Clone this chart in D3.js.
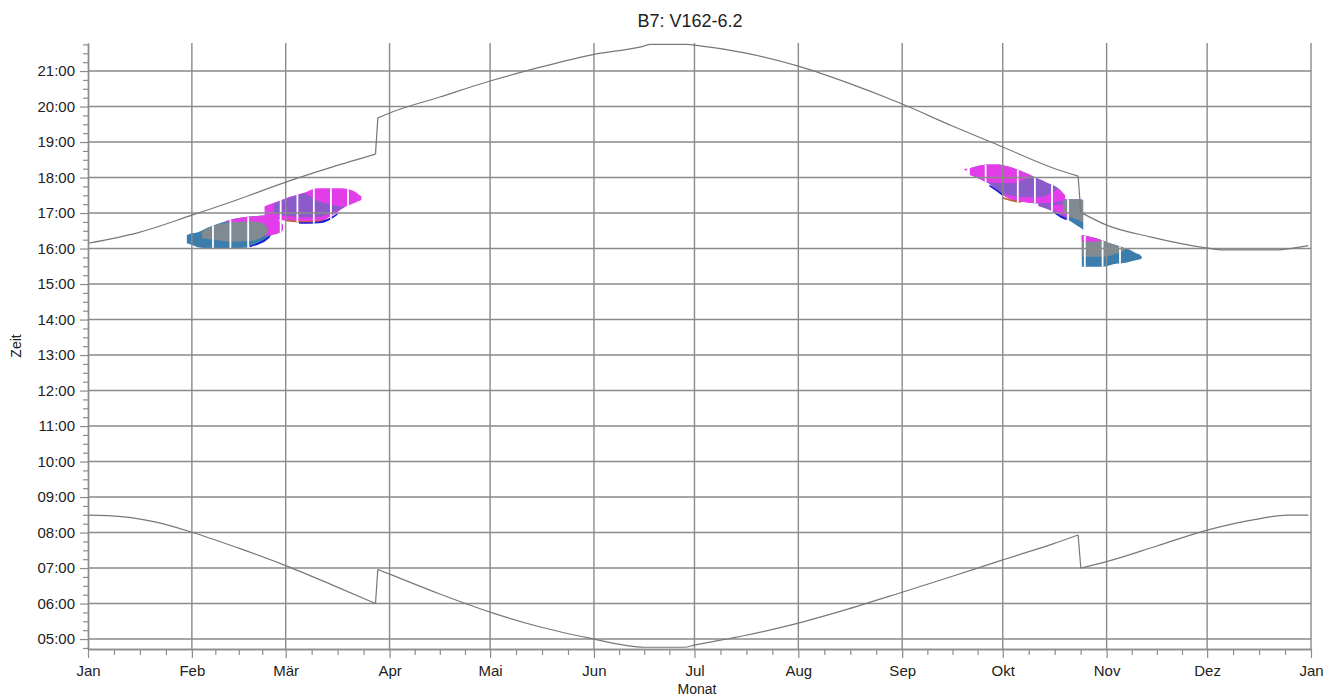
<!DOCTYPE html>
<html><head><meta charset="utf-8">
<script src="https://cdn.jsdelivr.net/npm/d3@7"></script>
<style>
html,body{margin:0;padding:0;background:#fff;}
svg{display:block;font-family:"Liberation Sans",Arial,sans-serif;}
</style></head>
<body>
<svg id="chart" width="1323" height="696"></svg>
<script>
// ---------- data ----------
const titleText = "B7: V162-6.2";
const xTitle = "Monat";
const yTitle = "Zeit";
const monthLabels = ["Jan","Feb","Mär","Apr","Mai","Jun","Jul","Aug","Sep","Okt","Nov","Dez","Jan"];
const monthStartDays = [0,31,59,90,120,151,181,212,243,273,304,334,365];
const hourTicks = [5,6,7,8,9,10,11,12,13,14,15,16,17,18,19,20,21];
const hourLabels = ["05:00","06:00","07:00","08:00","09:00","10:00","11:00","12:00","13:00","14:00","15:00","16:00","17:00","18:00","19:00","20:00","21:00"];

// sunset / sunrise (day of year, hours); clock changes after day 85.8 and 295.5
const clockChangeDays = [85.8, 295.5];
const sunsetDays  = [0,15,31,45,59,73,85.8,86.5,90,105,120,135,151,165,168,179,181,196,212,227,243,258,273,288,295.5,296.3,304,317,334.3,338.7,354.9,359.7,364.2];
const sunsetTimes = [16.15,16.45,16.94,17.39,17.87,18.30,18.66,19.68,19.82,20.27,20.72,21.11,21.47,21.68,21.75,21.75,21.73,21.51,21.14,20.66,20.07,19.45,18.86,18.27,18.04,17.02,16.66,16.33,16.01,15.96,15.96,16.01,16.08];
const sunriseDays  = [0,10,20,31,45,59,73,85.8,86.5,90,105,120,135,151,160,166,178,181,196,212,227,243,258,273,288,295.5,296.3,304,319,334,349,358,364.2];
const sunriseTimes = [8.49,8.45,8.30,8.01,7.56,7.07,6.52,6.00,6.96,6.83,6.27,5.76,5.34,5.00,4.83,4.77,4.77,4.83,5.10,5.45,5.85,6.32,6.77,7.23,7.68,7.93,7.00,7.18,7.62,8.07,8.38,8.49,8.49];

// shadow regions: day, start time, end time
const febBlueDays  = [29.5,30.4,32.8,35.8,38.2,41.2,44.2,46.9,48.3,50.7,52.7,54.6,56.1,57.3,58.2];
const febBlueStart = [16.15,16.12,16.04,16.01,16.01,16.01,16.01,16.02,16.06,16.13,16.22,16.36,16.43,16.45,16.52];
const febBlueEnd   = [16.38,16.42,16.46,16.59,16.68,16.77,16.85,16.88,16.90,16.92,16.93,16.90,16.84,16.76,16.66];
const febMagentaDays  = [41.2,45.4,49.8,52.8,54.9,57.3,58.2];
const febMagentaStart = [16.76,16.66,16.48,16.36,16.38,16.45,16.52];
const febMagentaEnd   = [16.78,16.87,16.91,16.93,16.90,16.76,16.66];
const febGrayDays  = [34.0,35.8,38.2,43.3,48.3,52.2,53.7];
const febGrayStart = [16.30,16.27,16.24,16.19,16.21,16.33,16.45];
const febGrayEnd   = [16.47,16.57,16.66,16.74,16.76,16.71,16.56];
const febEdgeDays  = [48.3,50.7,52.8,54.3];
const febEdgeStart = [16.04,16.11,16.20,16.31];
const febEdgeEnd   = [16.08,16.16,16.27,16.37];

const marMagentaDays  = [52.7,56.7,60.7,64.7,67.2,68.6,70.6,71.6,74.1,75.6,77.6,78.5,79.7,80.6,81.6];
const marMagentaStart = [16.91,16.81,16.77,16.72,16.74,16.74,16.78,16.86,17.00,17.11,17.21,17.25,17.29,17.33,17.37];
const marMagentaEnd   = [17.19,17.33,17.47,17.58,17.68,17.70,17.70,17.70,17.70,17.70,17.68,17.65,17.60,17.54,17.47];
const marPurpleDays  = [55.5,56.7,60.7,64.7,66.3,68.0,70.7,74.6,76.7];
const marPurpleStart = [17.00,16.96,16.91,16.88,16.88,16.89,16.93,17.08,17.16];
const marPurpleEnd   = [17.26,17.31,17.45,17.56,17.47,17.37,17.28,17.19,17.16];
const marOrangeDays  = [59,62,65,68,70.5];
const marOrangeStart = [16.77,16.74,16.72,16.73,16.77];
const marOrangeEnd   = [16.81,16.79,16.77,16.78,16.82];
const marEdgeDays  = [63,66,69,72,74.5];
const marEdgeStart = [16.70,16.70,16.71,16.80,16.95];
const marEdgeEnd   = [16.74,16.74,16.76,16.86,17.00];

const octPurpleDays  = [263.2,265.7,268.7,271.7,274.7,277.6,280.6,283.6,286.6,289.6,291.1,291.6];
const octPurpleStart = [18.07,17.98,17.84,17.60,17.42,17.33,17.30,17.27,17.29,17.32,17.35,17.37];
const octPurpleEnd   = [18.26,18.33,18.37,18.37,18.31,18.22,18.10,17.97,17.84,17.70,17.55,17.50];
const octMagentaDays  = [263.2,265.7,268.7,271.7,274.7,277.6,280.0,281.5];
const octMagentaStart = [18.07,17.98,17.86,17.85,17.84,17.87,17.98,18.06];
const octMagentaEnd   = [18.26,18.33,18.37,18.37,18.31,18.22,18.12,18.07];
const octDotDays  = [261.6,262.4];
const octDotStart = [18.20,18.20];
const octDotEnd   = [18.25,18.25];
const octBandDays  = [273.5,276,279,282,285,288,289.6,291.1,291.6];
const octBandStart = [17.48,17.37,17.31,17.28,17.28,17.30,17.32,17.35,17.37];
const octBandEnd   = [17.55,17.48,17.45,17.44,17.46,17.60,17.68,17.55,17.50];
const octOrangeDays  = [273,275.5,278.5];
const octOrangeStart = [17.40,17.33,17.29];
const octOrangeEnd   = [17.45,17.38,17.33];
const octEdgeDays  = [269,271,273];
const octEdgeStart = [17.75,17.62,17.48];
const octEdgeEnd   = [17.80,17.68,17.54];

const lateOctPurpleDays  = [283.6,287.1,290.1,293.1,296.1,297.0];
const lateOctPurpleStart = [17.20,17.08,16.92,16.78,16.60,16.54];
const lateOctPurpleEnd   = [17.33,17.39,17.39,17.39,17.39,17.37];
const lateOctMagentaDays  = [287.5,290,292.5,294];
const lateOctMagentaStart = [17.10,16.98,16.92,16.95];
const lateOctMagentaEnd   = [17.20,17.25,17.18,17.05];
const lateOctGrayDays  = [291.0,293,295,297.0];
const lateOctGrayStart = [17.08,16.90,16.78,16.70];
const lateOctGrayEnd   = [17.34,17.39,17.39,17.37];
const lateOctBlueDays  = [292.5,294,296,297.0];
const lateOctBlueStart = [16.82,16.72,16.60,16.54];
const lateOctBlueEnd   = [16.88,16.86,16.78,16.72];
const lateOctEdgeDays  = [288.6,290.3,292];
const lateOctEdgeStart = [16.97,16.87,16.80];
const lateOctEdgeEnd   = [17.02,16.93,16.86];

const novBlueDays  = [296.6,300.0,303.0,305.0,306.0,307.5,309.5,310.0,313.0,314.0,314.5];
const novBlueStart = [15.49,15.49,15.49,15.53,15.56,15.58,15.60,15.61,15.68,15.70,15.72];
const novBlueEnd   = [16.38,16.31,16.22,16.15,16.12,16.08,16.01,16.00,15.86,15.82,15.77];
const novGrayDays  = [296.6,300.0,303.0,305.0,307.0,309.0,309.6];
const novGrayStart = [15.77,15.77,15.77,15.80,15.86,15.94,15.98];
const novGrayEnd   = [16.38,16.31,16.22,16.15,16.09,16.02,15.99];
const novMagentaDays  = [296.6,300.0,302.5];
const novMagentaStart = [16.19,16.19,16.21];
const novMagentaEnd   = [16.38,16.31,16.24];

// days where the shadow raster has gaps (white columns)
const gapDays = [37.3,42.5,47.8,57.5,62.5,67.4,72.5,77.6,267.9,277.5,282.6,287.7,292.5,297.5,302.8,308.0];

// ---------- styles ----------
const COL = {
  blue:"#3b7eae", gray:"#808a92", magenta:"#e23de8", purple:"#8b5cc9",
  edge:"#1c1ce0", orange:"#c0603a",
  grid:"#8a8a8a", axis:"#8c8c8c", sun:"#787878", text:"#222"
};

// ---------- layout ----------
const svg = d3.select("#chart");
const x = d3.scaleLinear().domain([0,365]).range([88,1311]);
const y = d3.scaleLinear().domain([4.72,21.79]).range([649,43]);

function pts(d,s,e){ return d.map((v,i)=>[v,s[i],e[i]]); }
const layers = [
  [febBlueDays,febBlueStart,febBlueEnd,COL.blue],
  [febMagentaDays,febMagentaStart,febMagentaEnd,COL.magenta],
  [febGrayDays,febGrayStart,febGrayEnd,COL.gray],
  [febEdgeDays,febEdgeStart,febEdgeEnd,COL.edge],
  [marMagentaDays,marMagentaStart,marMagentaEnd,COL.magenta],
  [marPurpleDays,marPurpleStart,marPurpleEnd,COL.purple],
  [marOrangeDays,marOrangeStart,marOrangeEnd,COL.orange],
  [marEdgeDays,marEdgeStart,marEdgeEnd,COL.edge],
  [lateOctPurpleDays,lateOctPurpleStart,lateOctPurpleEnd,COL.purple],
  [lateOctMagentaDays,lateOctMagentaStart,lateOctMagentaEnd,COL.magenta],
  [lateOctGrayDays,lateOctGrayStart,lateOctGrayEnd,COL.gray],
  [lateOctBlueDays,lateOctBlueStart,lateOctBlueEnd,COL.blue],
  [lateOctEdgeDays,lateOctEdgeStart,lateOctEdgeEnd,COL.edge],
  [octPurpleDays,octPurpleStart,octPurpleEnd,COL.purple],
  [octMagentaDays,octMagentaStart,octMagentaEnd,COL.magenta],
  [octDotDays,octDotStart,octDotEnd,COL.magenta],
  [octBandDays,octBandStart,octBandEnd,COL.magenta],
  [octOrangeDays,octOrangeStart,octOrangeEnd,COL.orange],
  [octEdgeDays,octEdgeStart,octEdgeEnd,COL.edge],
  [novBlueDays,novBlueStart,novBlueEnd,COL.blue],
  [novGrayDays,novGrayStart,novGrayEnd,COL.gray],
  [novMagentaDays,novMagentaStart,novMagentaEnd,COL.magenta]
].map(l=>({p:pts(l[0],l[1],l[2]), c:l[3]}));

const area = d3.area()
  .x(p=>x(p[0])).y0(p=>y(p[1])).y1(p=>y(p[2]))
  .curve(d3.curveMonotoneX);

// clip for gap columns = union of all layers
const defs = svg.append("defs");
const clip = defs.append("clipPath").attr("id","blobclip");
clip.selectAll("path").data(layers).join("path").attr("d",l=>area(l.p));

const gBlobs = svg.append("g");
gBlobs.selectAll("path").data(layers).join("path")
  .attr("d",l=>area(l.p)).attr("fill",l=>l.c).attr("stroke","none");

svg.append("g").attr("clip-path","url(#blobclip)")
  .selectAll("line").data(gapDays).join("line")
  .attr("x1",d=>x(d)).attr("x2",d=>x(d))
  .attr("y1",y(19)).attr("y2",y(15))
  .attr("stroke","#fff").attr("stroke-width",1.8);

// gridlines
const grid = svg.append("g").attr("stroke",COL.grid).attr("stroke-width",1.4);
grid.selectAll(".h").data(hourTicks).join("line")
  .attr("x1",x(0)).attr("x2",x(365))
  .attr("y1",d=>y(d)).attr("y2",d=>y(d));
grid.selectAll(".v").data(monthStartDays.slice(1)).join("line")
  .attr("x1",d=>x(d)).attr("x2",d=>x(d))
  .attr("y1",y.range()[1]).attr("y2",y.range()[0]);

// sun lines: smooth pieces between clock changes, straight jumps
const smooth = d3.line().x(p=>x(p[0])).y(p=>y(p[1])).curve(d3.curveMonotoneX);
function drawSunLine(days, times){
  const p = days.map((d,i)=>[d,times[i]]);
  const pieces = [[]];
  p.forEach((q,i)=>{
    pieces[pieces.length-1].push(q);
    if(clockChangeDays.includes(q[0]) && i<p.length-1){
      pieces.push([q, p[i+1]]);   // the jump itself
      pieces.push([]);
    }
  });
  svg.append("g").selectAll("path").data(pieces.filter(a=>a.length>1)).join("path")
    .attr("d",smooth).attr("fill","none").attr("stroke",COL.sun).attr("stroke-width",1.2);
}
drawSunLine(sunsetDays, sunsetTimes);
drawSunLine(sunriseDays, sunriseTimes);

// axes
const quarterHours = d3.range(19*4-1).map(i=>4.75+i*0.25).filter(v=>v<=21.79 && v%1!==0);
const minorDays = [];
for(let m=0;m<12;m++){const a=monthStartDays[m],b=monthStartDays[m+1];for(let k=1;k<4;k++)minorDays.push(a+(b-a)*k/4);}

function styleAxis(g){
  g.select(".domain").attr("stroke",COL.axis).attr("stroke-width",1.4);
  g.selectAll(".tick line").attr("stroke",COL.axis).attr("stroke-width",1.2);
  g.selectAll("text").attr("fill",COL.text).style("font-size","15px")
   .style("font-family",'"Liberation Sans",Arial,sans-serif');
}
const yMinor = svg.append("g").attr("transform",`translate(${x(0)},0)`)
  .call(d3.axisLeft(y).tickValues(quarterHours).tickSize(5).tickSizeOuter(0).tickFormat(""));
styleAxis(yMinor);
const yMajor = svg.append("g").attr("transform",`translate(${x(0)},0)`)
  .call(d3.axisLeft(y).tickValues(hourTicks).tickSize(8).tickPadding(5).tickSizeOuter(0)
        .tickFormat((d,i)=>hourLabels[i]));
styleAxis(yMajor);

const xMinor = svg.append("g").attr("transform",`translate(0,${y(4.72)})`)
  .call(d3.axisBottom(x).tickValues(minorDays).tickSize(6).tickSizeOuter(0).tickFormat(""));
styleAxis(xMinor);
const xMajor = svg.append("g").attr("transform",`translate(0,${y(4.72)})`)
  .call(d3.axisBottom(x).tickValues(monthStartDays).tickSize(9).tickPadding(7).tickSizeOuter(0)
        .tickFormat((d,i)=>monthLabels[i]));
styleAxis(xMajor);

// titles
svg.append("text").attr("x",690).attr("y",27).attr("text-anchor","middle")
  .attr("fill",COL.text).style("font-size","18px").text(titleText);
svg.append("text").attr("x",697).attr("y",694).attr("text-anchor","middle")
  .attr("fill",COL.text).style("font-size","14px").text(xTitle);
svg.append("text").attr("transform","translate(21,346) rotate(-90)").attr("text-anchor","middle")
  .attr("fill",COL.text).style("font-size","14px").text(yTitle);
</script>
</body></html>
